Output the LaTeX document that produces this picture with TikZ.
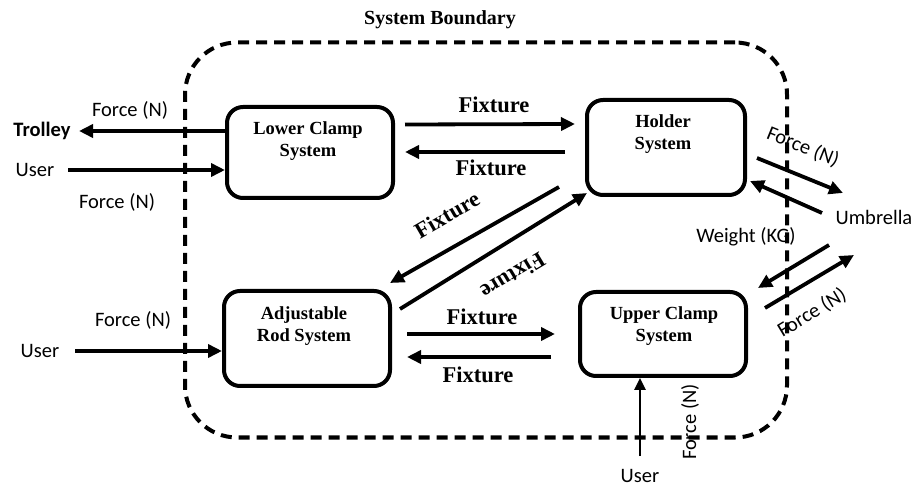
\documentclass[tikz,border=0pt]{standalone}
\usepackage{fontspec}
\setmainfont{Liberation Serif}
\newfontfamily\calib{Carlito}
\usetikzlibrary{arrows.meta,calc}
\begin{document}
\begin{tikzpicture}[x=1pt,y=-1pt,
  box/.style={draw,line width=4pt,rounded corners=16pt,inner sep=0pt},
  arr/.style={line width=3.8pt,-{Triangle[length=14pt,width=13pt]}},
  thinarr/.style={line width=2.6pt,-{Triangle[length=12pt,width=11pt]}},
  lbl/.style={font=\calib\fontsize{20.5}{24}\selectfont,inner sep=0pt},
  fix/.style={font=\bfseries\fontsize{22.5}{26}\selectfont,inner sep=0pt},
  sys/.style={font=\bfseries\fontsize{18.5}{22}\selectfont,align=center,inner sep=0pt},
  bound/.style={draw,line width=4pt,dash pattern=on 11pt off 7pt,rounded corners=52pt,inner sep=0pt}]
\useasboundingbox (0,0) rectangle (919,486);

% boundary
\node[bound,minimum width=602pt,minimum height=395pt] (boundary) at (486,240) {};
\node[font=\bfseries\fontsize{20}{24}\selectfont,inner sep=0pt] (title) at (440,20) {System Boundary};

% boxes
\node[box,minimum width=166pt,minimum height=91pt] (lc) at (310,152.5) {};
\node[sys] (lct) at (308,141) {Lower Clamp\\System};
\node[box,minimum width=158pt,minimum height=95pt] (hs) at (666,147.5) {};
\node[sys] (hst) at (663,134) {Holder\\System};
\node[box,minimum width=166pt,minimum height=95pt] (ar) at (307,338.5) {};
\node[sys] (art) at (304,326) {Adjustable\\Rod System};
\node[box,minimum width=166pt,minimum height=84pt] (uc) at (663,334) {};
\node[sys] (uct) at (664,326) {Upper Clamp\\System};

% external labels
\node[lbl,font=\calib\bfseries\fontsize{20.5}{24}\selectfont] (trolley) at (42,131) {Trolley};
\node[lbl] (user1) at (35,170) {User};
\node[lbl] (user2) at (40,351) {User};
\node[lbl] (user3) at (640,476) {User};
\node[lbl] (umb) at (874,217) {Umbrella};

\node[lbl] (f1) at (130,110) {Force (N)};
\node[lbl] (f2) at (117,202) {Force (N)};
\node[lbl] (f3) at (133,320) {Force (N)};
\node[lbl,rotate=90] (f4) at (690,422) {Force (N)};
\node[lbl,rotate=-22] (f5) at (803,147) {Force (N)};
\node[lbl,rotate=31] (f6) at (812,313) {Force (N)};
\node[lbl] (wkg) at (746,237) {Weight (KG)};

% fixture labels
\node[fix] (x1) at (494,105) {Fixture};
\node[fix] (x2) at (491,168) {Fixture};
\node[fix,rotate=30] (x3) at (447,215) {Fixture};
\node[fix,rotate=211] (x4) at (513,276) {Fixture};
\node[fix] (x5) at (482,317) {Fixture};
\node[fix] (x6) at (478,375) {Fixture};

% free ends
\coordinate (trolE) at (79,131);
\coordinate (u1S) at (68,170);
\coordinate (u2S) at (75,351);
\coordinate (u3S) at (640,456);
\coordinate (umbA) at (843,193);
\coordinate (umbB) at (822,213);
\coordinate (umbC) at (829,245);
\coordinate (umbD) at (854,255);
\coordinate (hsA) at (757,158);
\coordinate (hsB) at (750,181);
\coordinate (ucA) at (758,288);
\coordinate (ucB) at (765,308);

% connectors
\draw[arr] (lc.west |- trolE) -- (trolE);
\draw[arr] (u1S) -- (lc.west |- u1S);
\draw[arr] (u2S) -- (ar.west |- u2S);
\draw[thinarr] (u3S) -- (u3S |- uc.south);

\draw[arr] ([xshift=10pt,yshift=28pt]lc.east) -- ([xshift=-10pt]hs.west |- 0,124);
\draw[arr] ([xshift=-20pt]hs.west |- 0,152) -- ([xshift=10pt]lc.east |- 0,152);

\draw[arr] ([xshift=-26pt,yshift=10pt]hs.south west) -- ([xshift=-2pt,yshift=6pt]ar.north east);
\draw[arr] ([xshift=8pt,yshift=-20pt]ar.north east) -- ([xshift=2pt,yshift=4pt]hs.south west);

\draw[arr] ([xshift=15pt]ar.east |- 0,334) -- ([xshift=-23pt]uc.west |- 0,334);
\draw[arr] ([xshift=-27pt]uc.west |- 0,357) -- ([xshift=15pt]ar.east |- 0,357);

\draw[arr] (hsA) -- (umbA);
\draw[arr] (umbB) -- (hsB);
\draw[arr] (umbC) -- (ucA);
\draw[arr] (ucB) -- (umbD);
\end{tikzpicture}
\end{document}
